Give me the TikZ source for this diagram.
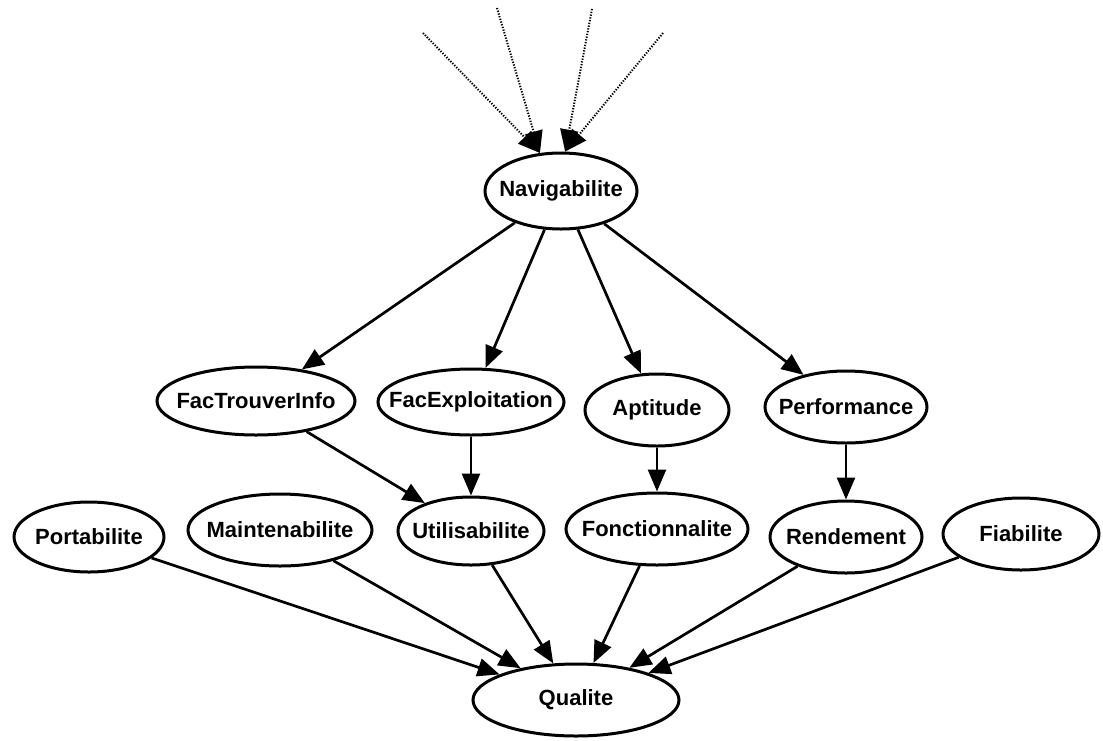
\documentclass[tikz,border=0pt]{standalone}
\usepackage{fontspec}
\setmainfont{Liberation Sans}
\usetikzlibrary{shapes.geometric,arrows.meta}
\begin{document}
\begin{tikzpicture}[x=1pt,y=-1pt,
  factor/.style={ellipse,draw,line width=3pt,inner xsep=-40pt,inner ysep=-12pt,
    font=\fontsize{22}{24}\selectfont\bfseries},
  link/.style={line width=2.7pt,-{Triangle[length=22pt,width=18pt]}},
  hint/.style={line width=2pt,dash pattern=on 1.3pt off 1.5pt,
    -{Triangle[length=22pt,width=18pt]}}]
\useasboundingbox (0,0) rectangle (1103,740);

% top factor
\node[factor,minimum width=152pt,minimum height=76pt] (nav) at (561,191) {Navigabilite};

% second row
\node[factor,minimum width=198pt,minimum height=68pt] (fti) at (256,401) {FacTrouverInfo};
\node[factor,minimum width=186pt,minimum height=66pt] (fex) at (471,402) {FacExploitation};
\node[factor,minimum width=144pt,minimum height=72pt] (apt) at (657,410) {Aptitude};
\node[factor,minimum width=162pt,minimum height=72pt] (perf) at (846,407) {Performance};

% third row
\node[factor,minimum width=150pt,minimum height=70pt] (por) at (89,537) {Portabilite};
\node[factor,minimum width=184pt,minimum height=72pt] (mai) at (280,530) {Maintenabilite};
\node[factor,minimum width=146pt,minimum height=68pt] (uti) at (471,531) {Utilisabilite};
\node[factor,minimum width=182pt,minimum height=72pt] (fon) at (657,529) {Fonctionnalite};
\node[factor,minimum width=152pt,minimum height=72pt] (ren) at (846,537) {Rendement};
\node[factor,minimum width=156pt,minimum height=72pt] (fia) at (1021,534) {Fiabilite};

% bottom factor
\node[factor,minimum width=206pt,minimum height=72pt] (qua) at (576,700) {Qualite};

% incoming influences from above
\coordinate (s1) at (423,33);
\coordinate (s2) at (497,8);
\coordinate (s3) at (592,9);
\coordinate (s4) at (663,33);
\draw[hint] (s1) -- (nav.119);
\draw[hint] (s2) -- (nav.119);
\draw[hint] (s3) -- (nav.84);
\draw[hint] (s4) -- (nav.84);

% dependencies
\draw[link] (nav) -- (fti);
\draw[link] (nav) -- (fex);
\draw[link] (nav) -- (apt);
\draw[link] (nav) -- (perf);
\draw[link] (fti) -- (uti);
\draw[link] (fex) -- (uti);
\draw[link] (apt) -- (fon);
\draw[link] (perf) -- (ren);
\draw[link] (por) -- (qua);
\draw[link] (mai) -- (qua);
\draw[link] (uti) -- (qua);
\draw[link] (fon) -- (qua);
\draw[link] (ren) -- (qua);
\draw[link] (fia) -- (qua);
\end{tikzpicture}
\end{document}
